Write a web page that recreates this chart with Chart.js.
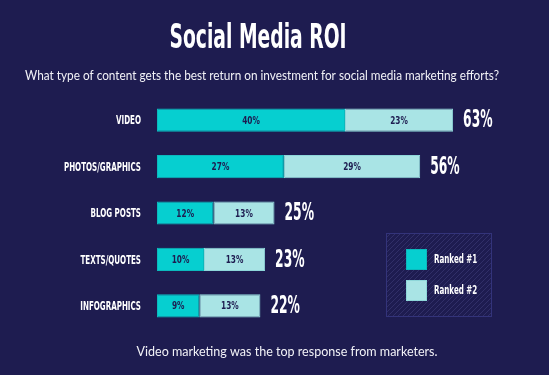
<!DOCTYPE html>
<html>
<head>
<meta charset="utf-8">
<script src="https://cdn.jsdelivr.net/npm/chart.js@4"></script>
<style>
  html, body { margin: 0; padding: 0; background: #1e1c50; }
  #wrap { width: 549px; height: 375px; position: relative; }
</style>
</head>
<body>
<div id="wrap"><canvas id="grafica"></canvas></div>
<script>
var categorias = ['VIDEO', 'PHOTOS/GRAPHICS', 'BLOG POSTS', 'TEXTS/QUOTES', 'INFOGRAPHICS'];
var ranked1 = [40, 27, 12, 10, 9];
var ranked2 = [23, 29, 13, 13, 13];
var etiquetasSerie = ['Ranked #1', 'Ranked #2'];

var titulo = 'Social Media ROI';
var subtitulo = 'What type of content gets the best return on investment for social media marketing efforts?';
var pie = 'Video marketing was the top response from marketers.';

var fondo = '#1e1c50';
var colores = ['#06cfd0', '#a9e4e5'];
var bordeColores = ['#0bb9bd', '#8ed6d9'];
var condensada = '"DejaVu Sans Condensed", "DejaVu Sans", sans-serif';

// texto estrechado horizontalmente (la fuente original es DIN condensada)
function textoEstrecho(ctx, texto, x, y, escala) {
    ctx.save();
    ctx.translate(x, y);
    ctx.scale(escala, 1);
    ctx.fillText(texto, 0, 0);
    ctx.restore();
}

// texto ajustado a un ancho dado
function textoAncho(ctx, texto, x, y, ancho) {
    var w = ctx.measureText(texto).width;
    textoEstrecho(ctx, texto, x, y, ancho / w);
}

var textosPlugin = {
    id: 'textos',
    beforeDraw: function (chart) {
        var ctx = chart.ctx;
        ctx.save();
        ctx.fillStyle = fondo;
        ctx.fillRect(0, 0, chart.width, chart.height);
        ctx.restore();
    },
    afterDraw: function (chart) {
        var ctx = chart.ctx;
        ctx.save();
        // titulo
        ctx.fillStyle = '#ffffff';
        ctx.textAlign = 'center';
        ctx.textBaseline = 'alphabetic';
        ctx.font = 'bold 34px ' + condensada;
        textoAncho(ctx, titulo, 258, 48, 177);
        // subtitulo y pie
        ctx.fillStyle = '#f2f2f7';
        ctx.font = '13px Lato, "Open Sans", sans-serif';
        ctx.textBaseline = 'middle';
        textoAncho(ctx, subtitulo, 262, 76, 474);
        textoAncho(ctx, pie, 287, 352, 301);

        // etiquetas de categoria
        var ejeY = chart.scales.y;
        ctx.font = 'bold 12px ' + condensada;
        ctx.fillStyle = '#ffffff';
        ctx.textAlign = 'right';
        ejeY.ticks.forEach(function (t, j) {
            textoEstrecho(ctx, ejeY.getLabelForValue(t.value), 141, ejeY.getPixelForTick(j) + 1, 0.66);
        });

        // valores dentro de las barras
        ctx.font = 'bold 10px ' + condensada;
        ctx.fillStyle = fondo;
        ctx.textAlign = 'center';
        chart.data.datasets.forEach(function (ds, i) {
            var meta = chart.getDatasetMeta(i);
            meta.data.forEach(function (bar, j) {
                var x = (bar.x + bar.base) / 2;
                textoEstrecho(ctx, ds.data[j] + '%', x, bar.y + 1, 0.82);
            });
        });

        // totales
        ctx.font = 'bold 24px ' + condensada;
        ctx.fillStyle = '#ffffff';
        ctx.textAlign = 'left';
        var ultima = chart.getDatasetMeta(chart.data.datasets.length - 1);
        ultima.data.forEach(function (bar, j) {
            var total = 0;
            chart.data.datasets.forEach(function (ds) { total += ds.data[j]; });
            textoEstrecho(ctx, total + '%', bar.x + 10, bar.y + 1, 0.57);
        });

        // leyenda con rayado
        var lx = 386, ly = 233, lw = 106, lh = 84;
        ctx.save();
        ctx.beginPath();
        ctx.rect(lx, ly, lw, lh);
        ctx.clip();
        ctx.strokeStyle = 'rgba(120, 120, 190, 0.22)';
        ctx.lineWidth = 1;
        for (var k = -lh; k < lw + lh; k += 5) {
            ctx.beginPath();
            ctx.moveTo(lx + k, ly + lh);
            ctx.lineTo(lx + k + lh, ly);
            ctx.stroke();
        }
        ctx.restore();
        ctx.strokeStyle = '#33337a';
        ctx.lineWidth = 1;
        ctx.strokeRect(lx + 0.5, ly + 0.5, lw - 1, lh - 1);

        ctx.font = 'bold 12px ' + condensada;
        chart.data.datasets.forEach(function (ds, i) {
            var sy = 249 + i * 31;
            ctx.fillStyle = ds.backgroundColor;
            ctx.fillRect(406, sy, 21, 21);
            ctx.strokeStyle = ds.borderColor;
            ctx.strokeRect(406.5, sy + 0.5, 20, 20);
            ctx.fillStyle = '#ffffff';
            ctx.textAlign = 'left';
            textoEstrecho(ctx, ds.label, 434, sy + 11, 0.66);
        });
        ctx.restore();
    }
};

var ctx = document.getElementById('grafica').getContext('2d');
var grafica = new Chart(ctx, {
    type: 'bar',
    data: {
        labels: categorias,
        datasets: [ranked1, ranked2].map(function (serie, i) {
            return {
                label: etiquetasSerie[i],
                data: serie,
                backgroundColor: colores[i],
                borderColor: bordeColores[i],
                borderWidth: 1,
                borderSkipped: false,
                barPercentage: 0.5,
                categoryPercentage: 1
            };
        })
    },
    options: {
        indexAxis: 'y',
        responsive: true,
        maintainAspectRatio: false,
        animation: false,
        layout: { padding: { left: 0, right: 16, top: 97, bottom: 46 } },
        plugins: {
            legend: { display: false },
            tooltip: { enabled: false }
        },
        scales: {
            x: {
                stacked: true,
                min: 0,
                max: 80,
                display: false
            },
            y: {
                stacked: true,
                grid: { display: false, drawTicks: false },
                border: { display: false },
                ticks: { display: false },
                afterFit: function (scale) { scale.width = 157; }
            }
        }
    },
    plugins: [textosPlugin]
});
</script>
</body>
</html>
